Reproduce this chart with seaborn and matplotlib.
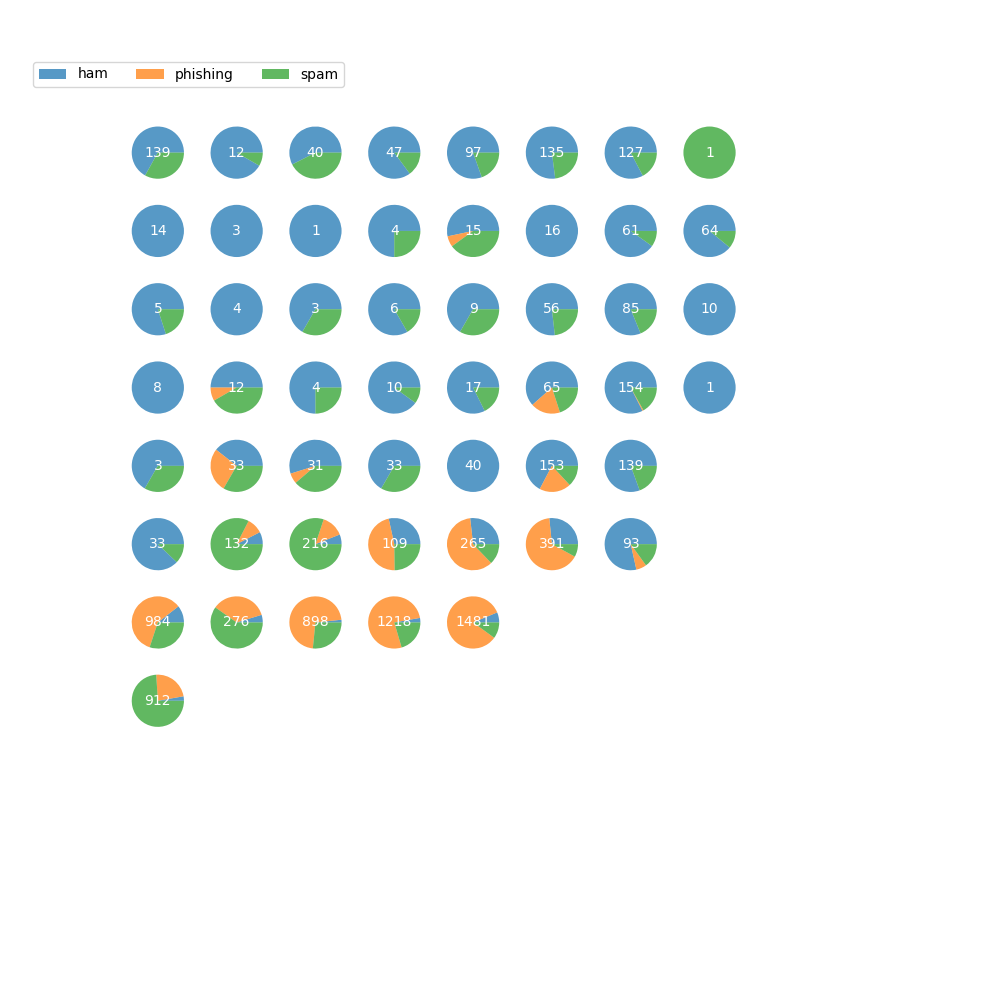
import matplotlib
matplotlib.use("Agg")
import matplotlib.pyplot as plt
import matplotlib.patches as mpatches
import seaborn as sns

categories = ["ham", "phishing", "spam"]

# Each grid row holds the pies of that row; each pie is (ham, phishing, spam) counts
row1 = [(93, 0, 46), (11, 0, 1), (23, 0, 17), (40, 0, 7), (78, 0, 19), (104, 0, 31), (105, 0, 22), (0, 0, 1)]
row2 = [(14, 0, 0), (3, 0, 0), (1, 0, 0), (3, 0, 1), (8, 1, 6), (16, 0, 0), (55, 0, 6), (57, 0, 7)]
row3 = [(4, 0, 1), (4, 0, 0), (2, 0, 1), (5, 0, 1), (6, 0, 3), (43, 0, 13), (69, 0, 16), (10, 0, 0)]
row4 = [(8, 0, 0), (6, 1, 5), (3, 0, 1), (9, 0, 1), (14, 0, 3), (40, 12, 13), (127, 1, 26), (1, 0, 0)]
row5 = [(2, 0, 1), (13, 9, 11), (17, 2, 12), (22, 0, 11), (40, 0, 0), (103, 30, 20), (112, 0, 27)]
row6 = [(29, 0, 4), (10, 13, 109), (13, 30, 173), (31, 51, 27), (71, 160, 34), (104, 256, 31), (73, 6, 14)]
row7 = [(104, 584, 296), (13, 98, 165), (15, 644, 239), (34, 935, 249), (93, 1240, 148)]
row8 = [(25, 212, 675)]
rows = [row1, row2, row3, row4, row5, row6, row7, row8]

colors = sns.color_palette("tab10", 3)

n = 10
fig, axes = plt.subplots(n, n, figsize=(10, 10), dpi=100)
for ax in axes.flat:
    ax.set_axis_off()

for r, row in enumerate(rows):
    for c, vals in enumerate(row):
        ax = axes[r, c]
        ax.set_axis_on()
        ax.pie(vals, colors=colors, startangle=0, counterclock=True,
               wedgeprops=dict(alpha=0.75, linewidth=0))
        ax.text(0, 0, str(sum(vals)), ha="center", va="center",
                color="white", fontsize=10)

handles = [mpatches.Patch(facecolor=colors[i], edgecolor="none", linewidth=0,
                          alpha=0.75, label=categories[i])
           for i in range(len(categories))]
fig.legend(handles=handles, loc="upper left", bbox_to_anchor=(0.026, 0.945),
           ncol=3, fontsize=10)

fig.savefig("out.png", dpi=100)
